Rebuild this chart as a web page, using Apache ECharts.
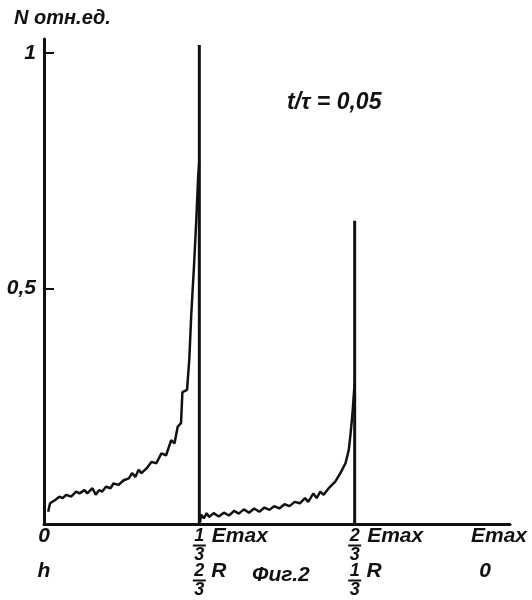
<!DOCTYPE html>
<html>
<head>
<meta charset="utf-8">
<script src="https://cdn.jsdelivr.net/npm/echarts@6/dist/echarts.min.js"></script>
<style>
html, body { margin: 0; padding: 0; background: #fff; }
#main { width: 532px; height: 600px; }
</style>
</head>
<body>
<div id="main"></div>
<script>
// energy in units of Emax, N in relative units
var band1X = [0.009, 0.013, 0.024, 0.033, 0.040, 0.048, 0.058, 0.069, 0.076, 0.087, 0.093, 0.104, 0.111, 0.118, 0.125, 0.133, 0.143, 0.149, 0.160, 0.171, 0.182, 0.189, 0.196, 0.203, 0.209, 0.220, 0.231, 0.241, 0.252, 0.262, 0.273, 0.280, 0.287, 0.294, 0.297, 0.307, 0.312, 0.316, 0.322, 0.327, 0.331, 0.3333];
var band1N = [0.026, 0.044, 0.051, 0.058, 0.055, 0.062, 0.058, 0.069, 0.065, 0.072, 0.065, 0.076, 0.062, 0.072, 0.069, 0.079, 0.076, 0.086, 0.083, 0.093, 0.097, 0.108, 0.100, 0.115, 0.108, 0.118, 0.132, 0.129, 0.150, 0.146, 0.178, 0.171, 0.207, 0.214, 0.280, 0.285, 0.353, 0.445, 0.550, 0.649, 0.741, 0.770];
var band2X = [0.335, 0.337, 0.343, 0.349, 0.354, 0.364, 0.375, 0.386, 0.397, 0.408, 0.418, 0.429, 0.440, 0.451, 0.462, 0.473, 0.484, 0.494, 0.505, 0.516, 0.527, 0.538, 0.549, 0.560, 0.567, 0.578, 0.585, 0.593, 0.600, 0.611, 0.625, 0.636, 0.647, 0.654, 0.658, 0.662, 0.664, 0.6667];
var band2N = [0.004, 0.020, 0.012, 0.023, 0.015, 0.023, 0.016, 0.024, 0.018, 0.028, 0.022, 0.031, 0.024, 0.033, 0.026, 0.035, 0.030, 0.038, 0.033, 0.042, 0.038, 0.047, 0.044, 0.055, 0.047, 0.065, 0.055, 0.069, 0.062, 0.076, 0.090, 0.108, 0.129, 0.157, 0.193, 0.235, 0.263, 0.300];
var peakX = [1 / 3, 2 / 3];
var peakN = [1.017, 0.644];

var yTicks = [0.5, 1];
var yTickLabels = ['0,5', '1'];
var xTicks = [0, 1 / 3, 2 / 3, 1];
var energyLabels = [
    { text: '0' },
    { num: '1', den: '3', unit: 'Emax' },
    { num: '2', den: '3', unit: 'Emax' },
    { text: 'Emax', shift: 22 }
];
var depthLabels = [
    { text: 'h' },
    { num: '2', den: '3', unit: 'R' },
    { num: '1', den: '3', unit: 'R' },
    { text: '0', shift: 50 }
];

var ink = '#111';
var font = { fontFamily: 'Liberation Sans', fontStyle: 'italic', fontWeight: 'bold', color: ink };

function pairs(xs, ys) {
    return xs.map(function (x, i) { return [x, ys[i]]; });
}

function tickIndex(v) {
    for (var i = 0; i < xTicks.length; i++) {
        if (Math.abs(v - xTicks[i]) < 1e-6) return i;
    }
    return -1;
}

// each line is centred on the tick, so the numerator line gets a left pad as wide as the unit
function fractionLabel(list) {
    return function (v) {
        var i = tickIndex(v);
        if (i < 0) return '';
        var l = list[i];
        if (l.text) {
            return '{big|' + l.text + '}' + (l.shift ? '{sh' + l.shift + '| }' : '');
        }
        var e = l.unit === 'Emax';
        return '{' + (e ? 'padE' : 'padR') + '| }{num|' + l.num + '}{sp| }{' + (e ? 'unitE' : 'unitR') + '|' + l.unit + '}\n' +
            '{bar| }\n' +
            '{den|' + l.den + '}';
    };
}

var rich = {
    big: Object.assign({ fontSize: 21, lineHeight: 15 }, font),
    unitE: Object.assign({ fontSize: 21, lineHeight: 15, width: 58 }, font),
    unitR: Object.assign({ fontSize: 21, lineHeight: 15, width: 16 }, font),
    num: Object.assign({ fontSize: 18, lineHeight: 15, width: 11 }, font),
    den: Object.assign({ fontSize: 18, lineHeight: 16 }, font),
    bar: { width: 13, height: 2, lineHeight: 3, fontSize: 2, backgroundColor: ink },
    sp: { width: 6, fontSize: 2 },
    padE: { width: 64, fontSize: 2 },
    padR: { width: 22, fontSize: 2 },
    sh22: { width: 22, fontSize: 2 },
    sh50: { width: 50, fontSize: 2 }
};

var myChart = echarts.init(document.getElementById('main'));

var lineStyle = { color: ink, width: 2.5 };

var option = {
    animation: false,
    backgroundColor: '#fff',
    title: [
        { text: 'N отн.ед.', left: 14, top: 8, padding: 0,
          textStyle: Object.assign({ fontSize: 20 }, font) },
        { text: 't/τ = 0,05', left: 287, top: 91, padding: 0,
          textStyle: Object.assign({ fontSize: 23 }, font) },
        { text: 'Фиг.2', left: 252, top: 565, padding: 0,
          textStyle: Object.assign({ fontSize: 21 }, font) }
    ],
    grid: { left: 44, right: 22, top: 39, bottom: 76, outerBoundsMode: 'none', containLabel: false },
    xAxis: [
        {
            type: 'value', min: 0, max: 1,
            axisLine: { lineStyle: { color: ink, width: 3 } },
            axisTick: { show: false },
            splitLine: { show: false },
            axisLabel: { customValues: xTicks, margin: 5, formatter: fractionLabel(energyLabels), rich: rich }
        },
        {
            type: 'value', min: 0, max: 1, position: 'bottom', offset: 36,
            axisLine: { show: false },
            axisTick: { show: false },
            splitLine: { show: false },
            axisLabel: { customValues: xTicks, margin: 4, formatter: fractionLabel(depthLabels), rich: rich }
        }
    ],
    yAxis: {
        type: 'value', min: 0, max: 1.03,
        axisLine: { show: true, lineStyle: { color: ink, width: 3 } },
        axisTick: { show: true, inside: true, length: 10, customValues: yTicks, lineStyle: { color: ink, width: 2 } },
        splitLine: { show: false },
        axisLabel: {
            customValues: yTicks, margin: 8,
            formatter: function (v) { return yTickLabels[yTicks.indexOf(v)]; },
            fontSize: 21, fontFamily: font.fontFamily, fontStyle: 'italic', fontWeight: 'bold', color: ink
        }
    },
    series: [
        { name: 'band1', type: 'line', symbol: 'none', data: pairs(band1X, band1N), lineStyle: lineStyle },
        { name: 'band2', type: 'line', symbol: 'none', data: pairs(band2X, band2N), lineStyle: lineStyle },
        { name: 'peak1', type: 'line', symbol: 'none', data: [[peakX[0], 0], [peakX[0], peakN[0]]], lineStyle: { color: ink, width: 3 } },
        { name: 'peak2', type: 'line', symbol: 'none', data: [[peakX[1], 0], [peakX[1], peakN[1]]], lineStyle: { color: ink, width: 3 } }
    ]
};

myChart.setOption(option);
</script>
</body>
</html>
